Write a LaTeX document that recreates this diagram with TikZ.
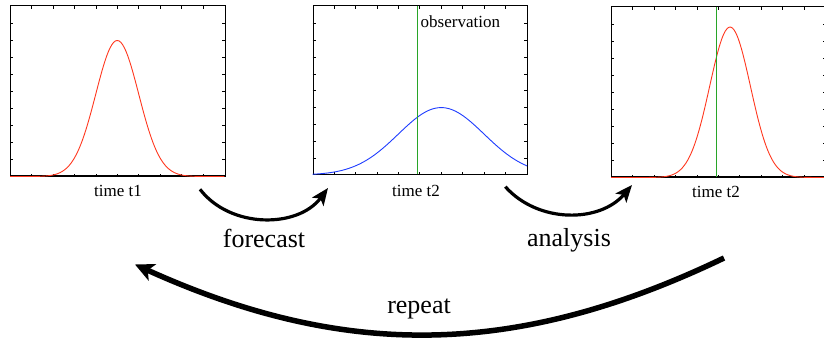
\documentclass[tikz,border=0pt]{standalone}
\usepackage{fontspec}
\setmainfont{Liberation Serif}
\usetikzlibrary{positioning, calc, arrows.meta}
\definecolor{curvered}{RGB}{255, 55, 30}
\definecolor{curveblue}{RGB}{30, 60, 255}
\definecolor{obsgreen}{RGB}{40, 165, 40}

% inward ticks on all four sides of a unit panel (x 0..10, y 0..1)
\newcommand{\panelticks}{%
  \foreach \i in {1,...,9} {
    \draw[tickline] (\i,0) -- ++(0pt,3pt);
    \draw[tickline] (\i,1) -- ++(0pt,-3pt);
    \draw[tickline] (0,\i/10) -- ++(3pt,0pt);
    \draw[tickline] (10,\i/10) -- ++(-3pt,0pt);
  }
}

\begin{document}
\begin{tikzpicture}[x=1pt, y=1pt,
    panel/.style={draw=black, line width=1.1pt, minimum width=214.5pt, minimum height=170pt, inner sep=0pt, anchor=south west},
    tickline/.style={line width=0.6pt},
    curve/.style={line width=0.9pt, line join=round},
    obsline/.style={draw=obsgreen, line width=1.3pt},
    axislabel/.style={font=\fontsize{17}{20}\selectfont, anchor=base, inner sep=0pt},
    steplabel/.style={font=\fontsize{26}{30}\selectfont, anchor=base, inner sep=0pt},
    steparrow/.style={line width=3.2pt, -{Stealth[length=17pt, width=14pt, inset=4pt]}}]
    \useasboundingbox (0,0) rectangle (824,338);

    % Panels
    \node[panel] (before) at (10,161.5) {};
    \node[panel, minimum height=168.5pt] (prior) at (312.5,163) {};
    \node[panel] (after) at (611,160.5) {};

    % Panel 1: state at time t1
    \begin{scope}[shift={(before.south west)}, x=21.45pt, y=170pt]
        \panelticks
        \draw[curve, curvered] plot[domain=0:10, samples=121, smooth] (\x, {0.8*exp(-(\x-5)^2/2)});
    \end{scope}

    % Panel 2: forecast with observation
    \begin{scope}[shift={(prior.south west)}, x=21.45pt, y=168.5pt]
        \panelticks
        \draw[curve, curveblue] plot[domain=0:10, samples=121, smooth] (\x, {0.4*exp(-(\x-6)^2/8)});
    \end{scope}
    \draw[obsline] ($(prior.south west)+(105,0.6)$) -- ($(prior.north west)+(105,-0.6)$);

    % Panel 3: analysis
    \begin{scope}[shift={(after.south west)}, x=21.45pt, y=170pt]
        \panelticks
        \draw[curve, curvered] plot[domain=0:10, samples=121, smooth] (\x, {0.885*exp(-(\x-5.55)^2/(2*0.95^2))});
    \end{scope}
    \draw[obsline] ($(after.south west)+(105.8,0.6)$) -- ($(after.north west)+(105.8,-0.6)$);

    % Axis labels
    \node[axislabel] (t1) at (118,141.5) {time t1};
    \node[axislabel] (t2) at (416,141.8) {time t2};
    \node[axislabel] (t2b) at (716,141) {time t2};
    \node[axislabel, anchor=base west] (obs) at (420.5,310) {observation};

    % Cycle arrows
    \coordinate (fc-from) at (200,148.7);
    \coordinate (fc-to) at (328,150);
    \draw[steparrow] (fc-from) to[bend right=53] (fc-to);
    \node[steplabel] (fc) at (264,91) {forecast};

    \coordinate (an-from) at (505.3,151.3);
    \coordinate (an-to) at (632,153);
    \draw[steparrow] (an-from) to[bend right=49] (an-to);
    \node[steplabel] (an) at (569,92) {analysis};

    \coordinate (rp-from) at (724,80);
    \coordinate (rp-to) at (135,73.5);
    \draw[line width=5.5pt, -{Stealth[length=19pt, width=18pt, inset=5pt]}] (rp-from) to[bend left=25] (rp-to);
    \node[steplabel] (rp) at (419,25) {repeat};
\end{tikzpicture}
\end{document}
